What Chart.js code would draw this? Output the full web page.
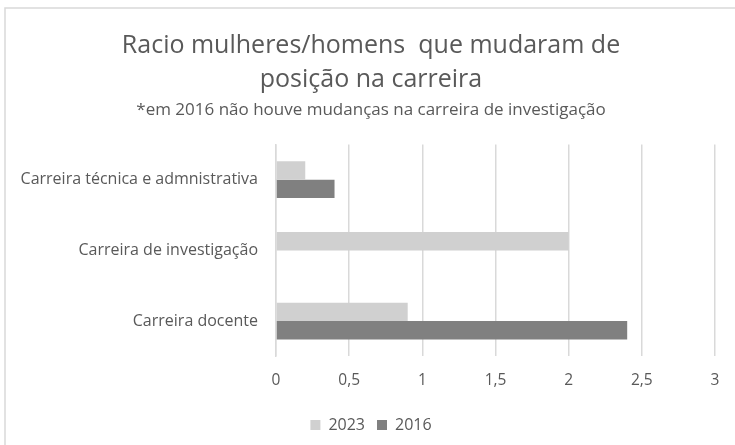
<!DOCTYPE html>
<html>
<head>
<meta charset="utf-8">
<script src="https://cdn.jsdelivr.net/npm/chart.js@4"></script>
<style>
  body { margin: 0; background: #fff; }
</style>
</head>
<body>
<canvas id="c" width="735" height="445"></canvas>
<script>
// dados
const categorias = ["Carreira técnica e admnistrativa", "Carreira de investigação", "Carreira docente"];
const valores2023 = [0.2, 2.0, 0.9];
const valores2016 = [0.4, null, 2.4];
const xTicks = [0, 0.5, 1, 1.5, 2, 2.5, 3];

const corTexto = "#595959";
const fonte = "'Open Sans', sans-serif";

// moldura cinzenta (só se vê o lado de cima e o da esquerda)
const moldura = {
  id: "moldura",
  beforeDraw(chart) {
    const ctx = chart.ctx;
    ctx.save();
    ctx.fillStyle = "#fff";
    ctx.fillRect(0, 0, chart.width, chart.height);
    ctx.strokeStyle = "#d9d9d9";
    ctx.lineWidth = 1.5;
    ctx.beginPath();
    ctx.moveTo(5, chart.height);
    ctx.lineTo(5, 8);
    ctx.lineTo(chart.width, 8);
    ctx.stroke();
    ctx.restore();
  },
  // deixa o rótulo comprido da categoria passar para a margem esquerda
  afterLayout(chart) {
    chart.scales.y.left = 8;
  }
};

new Chart(document.getElementById("c"), {
  type: "bar",
  data: {
    labels: categorias,
    datasets: [
      { label: "2023", data: valores2023, backgroundColor: "#d0d0d0", borderWidth: 0 },
      { label: "2016", data: valores2016, backgroundColor: "#808080", borderWidth: 0 }
    ]
  },
  options: {
    indexAxis: "y",
    responsive: false,
    animation: false,
    layout: { padding: { top: 16, right: 20, left: 27, bottom: 2 } },
    datasets: { bar: { categoryPercentage: 0.52, barPercentage: 1 } },
    scales: {
      x: {
        min: 0,
        max: 3,
        afterBuildTicks: (axis) => { axis.ticks = xTicks.map(v => ({ value: v })); },
        ticks: {
          color: corTexto,
          font: { family: fonte, size: 15.5 },
          padding: 15,
          callback: (v) => String(v).replace(".", ",")
        },
        grid: { color: "#d9d9d9", lineWidth: 1.5, drawTicks: false, tickLength: 0 },
        border: { display: false }
      },
      y: {
        ticks: { color: corTexto, font: { family: fonte, size: 16 }, padding: 18 },
        grid: { display: false, drawTicks: false, tickLength: 0 },
        border: { color: "#d9d9d9", width: 1.5 },
        afterFit: (axis) => { axis.width = 249; }
      }
    },
    plugins: {
      title: {
        display: true,
        text: ["Racio mulheres/homens  que mudaram de", "posição na carreira"],
        color: corTexto,
        font: { family: fonte, size: 25, weight: "normal", lineHeight: 1.36 },
        padding: { top: 13, bottom: 3 }
      },
      subtitle: {
        display: true,
        text: "*em 2016 não houve mudanças na carreira de investigação",
        color: corTexto,
        font: { family: fonte, size: 17 },
        padding: { top: 0, bottom: 24 }
      },
      legend: {
        position: "bottom",
        labels: {
          color: corTexto,
          font: { family: fonte, size: 16 },
          boxWidth: 10,
          boxHeight: 10,
          padding: 12
        }
      },
      tooltip: { enabled: false }
    }
  },
  plugins: [moldura]
});
</script>
</body>
</html>
